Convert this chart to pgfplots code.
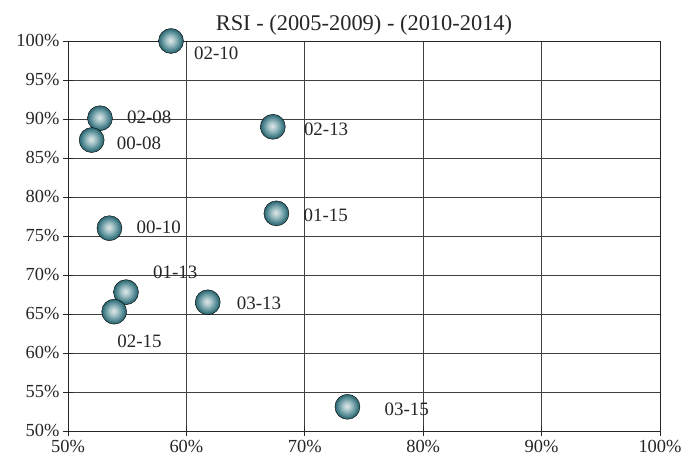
\documentclass[border=0pt]{standalone}
\usepackage{fontspec}
\setmainfont{Liberation Serif}
\usepackage{pgfplots}
\pgfplotsset{compat=1.18}
\usepackage{pgfplotstable}

\definecolor{ballA}{RGB}{226,232,232}
\definecolor{ballB}{RGB}{160,192,197}
\definecolor{ballC}{RGB}{86,140,149}
\definecolor{ballD}{RGB}{44,102,112}
% the path's edge sits at 25bp of the radial shading
\pgfdeclareradialshading{tealball}{\pgfpoint{-1.5bp}{1.5bp}}{%
  color(0bp)=(ballA); color(9bp)=(ballB); color(18bp)=(ballC);
  color(24bp)=(ballD); color(25bp)=(ballD); color(50bp)=(ballD)}
\pgfdeclareplotmark{tealball}{%
  \shade[shading=tealball] (0pt,0pt) circle[radius=\pgfplotmarksize];}

% x, y in percent; dx, dy: label offsets in bp
\pgfplotstableread{
x     y      lbl    dx   dy
58.7  100.0  02-10  23  -12
52.7  90.1   02-08  27   1
52.0  87.3   00-08  25  -3
67.3  89.0   02-13  31  -3
67.6  77.9   01-15  27  -2
53.5  76.0   00-10  27   1
54.9  67.8   01-13  27   20
53.9  65.3   02-15  3   -30
61.8  66.5   03-13  29  -1
73.6  53.1   03-15  37  -2
}\rsidata

\begin{document}
\begin{tikzpicture}
\begin{axis}[
  name=ax,
  scale only axis,
  width=592bp, height=390bp,
  xmin=50, xmax=100, ymin=50, ymax=100,
  xtick={50,60,...,100},
  ytick={50,55,...,100},
  xticklabel={\pgfmathprintnumber{\tick}\%},
  yticklabel={\pgfmathprintnumber{\tick}\%},
  /pgf/number format/assume math mode=true,
  ticklabel style={font=\fontsize{18.5}{20}\selectfont, text=black!85},
  xticklabel style={yshift=-1bp},
  title={RSI - (2005-2009) - (2010-2014)},
  title style={font=\fontsize{22.5}{25}\selectfont, text=black!85, yshift=-4bp},
  grid=major,
  major grid style={black!75, line width=0.9bp},
  axis line style={black!85, line width=0.9bp},
  tick style={black!85, line width=0.9bp},
  tick align=center,
  major tick length=10bp,
  xtick pos=bottom, ytick pos=left,
  clip=false,
  visualization depends on={\thisrow{dx} \as \dx},
  visualization depends on={\thisrow{dy} \as \dy},
  nodes near coords,
  point meta=explicit symbolic,
  nodes near coords style={anchor=west, xshift=\dx bp, yshift=\dy bp,
    font=\fontsize{19}{21}\selectfont, text=black!85, inner sep=0pt},
]
\addplot[only marks, mark=tealball, mark size=12.5bp]
  table[x=x, y=y, meta=lbl] {\rsidata};
\end{axis}
\pgfresetboundingbox
\useasboundingbox ([shift={(-68bp,-37bp)}]ax.south west) rectangle ([shift={(38bp,41bp)}]ax.north east);
\end{tikzpicture}
\end{document}
